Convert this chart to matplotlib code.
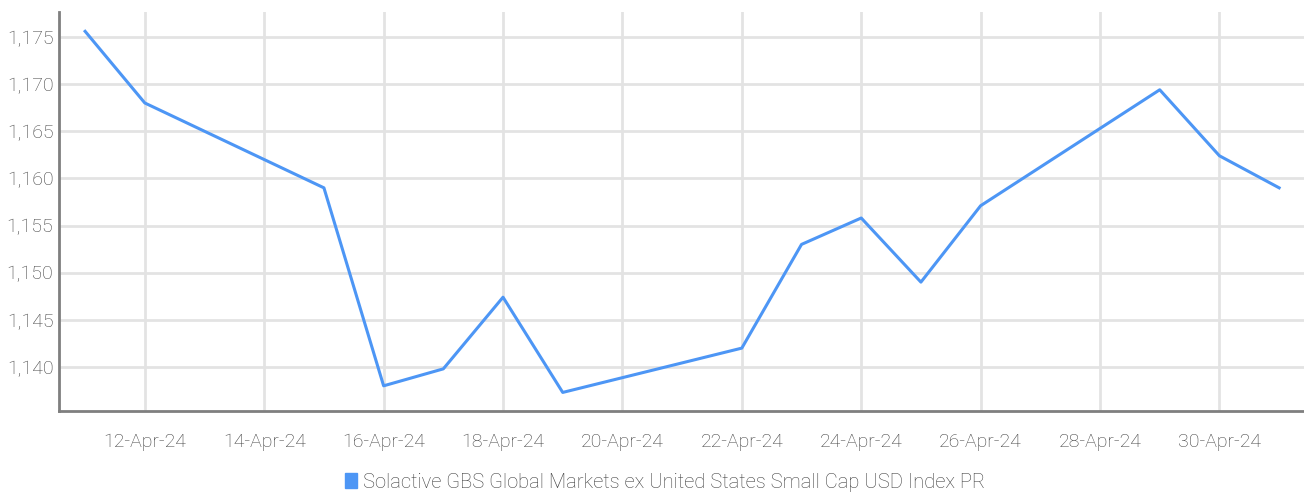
import matplotlib
matplotlib.use("Agg")
import matplotlib.pyplot as plt
import matplotlib.dates as mdates
from matplotlib.patches import Patch
import datetime as dt

dates = ["2024-04-11", "2024-04-12", "2024-04-15", "2024-04-16", "2024-04-17",
         "2024-04-18", "2024-04-19", "2024-04-22", "2024-04-23", "2024-04-24",
         "2024-04-25", "2024-04-26", "2024-04-29", "2024-04-30", "2024-05-01"]
values = [1175.6, 1168.0, 1159.0, 1138.0, 1139.8,
          1147.4, 1137.3, 1142.0, 1153.0, 1155.8,
          1149.0, 1157.1, 1169.4, 1162.4, 1159.0]
series_name = "Solactive GBS Global Markets ex United States Small Cap USD Index PR"
yticks = [1140, 1145, 1150, 1155, 1160, 1165, 1170, 1175]
xtick_dates = ["2024-04-12", "2024-04-14", "2024-04-16", "2024-04-18", "2024-04-20",
               "2024-04-22", "2024-04-24", "2024-04-26", "2024-04-28", "2024-04-30"]

plt.rcParams['font.family'] = ['Roboto', 'DejaVu Sans']
plt.rcParams['font.weight'] = 'light'

x = [dt.datetime.strptime(d, "%Y-%m-%d") for d in dates]
xt = [dt.datetime.strptime(d, "%Y-%m-%d") for d in xtick_dates]

fig = plt.figure(figsize=(13.04, 4.96), dpi=100)
ax = fig.add_axes([59/1304, 1 - 411/496, 1 - 59/1304, (411 - 12)/496])

line_color = "#4d96f5"
text_color = "#3f3f3f"
ax.plot(x, values, color=line_color, linewidth=2.2)

ax.set_xlim(dt.datetime(2024, 4, 10, 13, 30), dt.datetime(2024, 5, 1, 10, 0))
ax.set_ylim(1135.33, 1177.65)
ax.set_yticks(yticks)
ax.set_yticklabels([f"{v:,}" for v in yticks])
ax.set_xticks(xt)
ax.xaxis.set_major_formatter(mdates.DateFormatter("%d-%b-%y"))

ax.grid(True, color="#e3e3e3", linewidth=2)
ax.set_axisbelow(True)
for s in ["top", "right"]:
    ax.spines[s].set_visible(False)
for s in ["left", "bottom"]:
    ax.spines[s].set_color("#7f7f7f")
    ax.spines[s].set_linewidth(2)
ax.tick_params(axis="both", length=0, labelsize=14, colors=text_color)
ax.tick_params(axis="x", pad=16)
ax.tick_params(axis="y", pad=4)

fig.legend(handles=[Patch(color=line_color, label=series_name)], loc="center",
           bbox_to_anchor=(0.51, 1 - 482/496), frameon=False,
           handlelength=0.6, handleheight=0.7, handletextpad=0.3, fontsize=14.5,
           labelcolor=text_color)

fig.savefig("out.png", dpi=100)
